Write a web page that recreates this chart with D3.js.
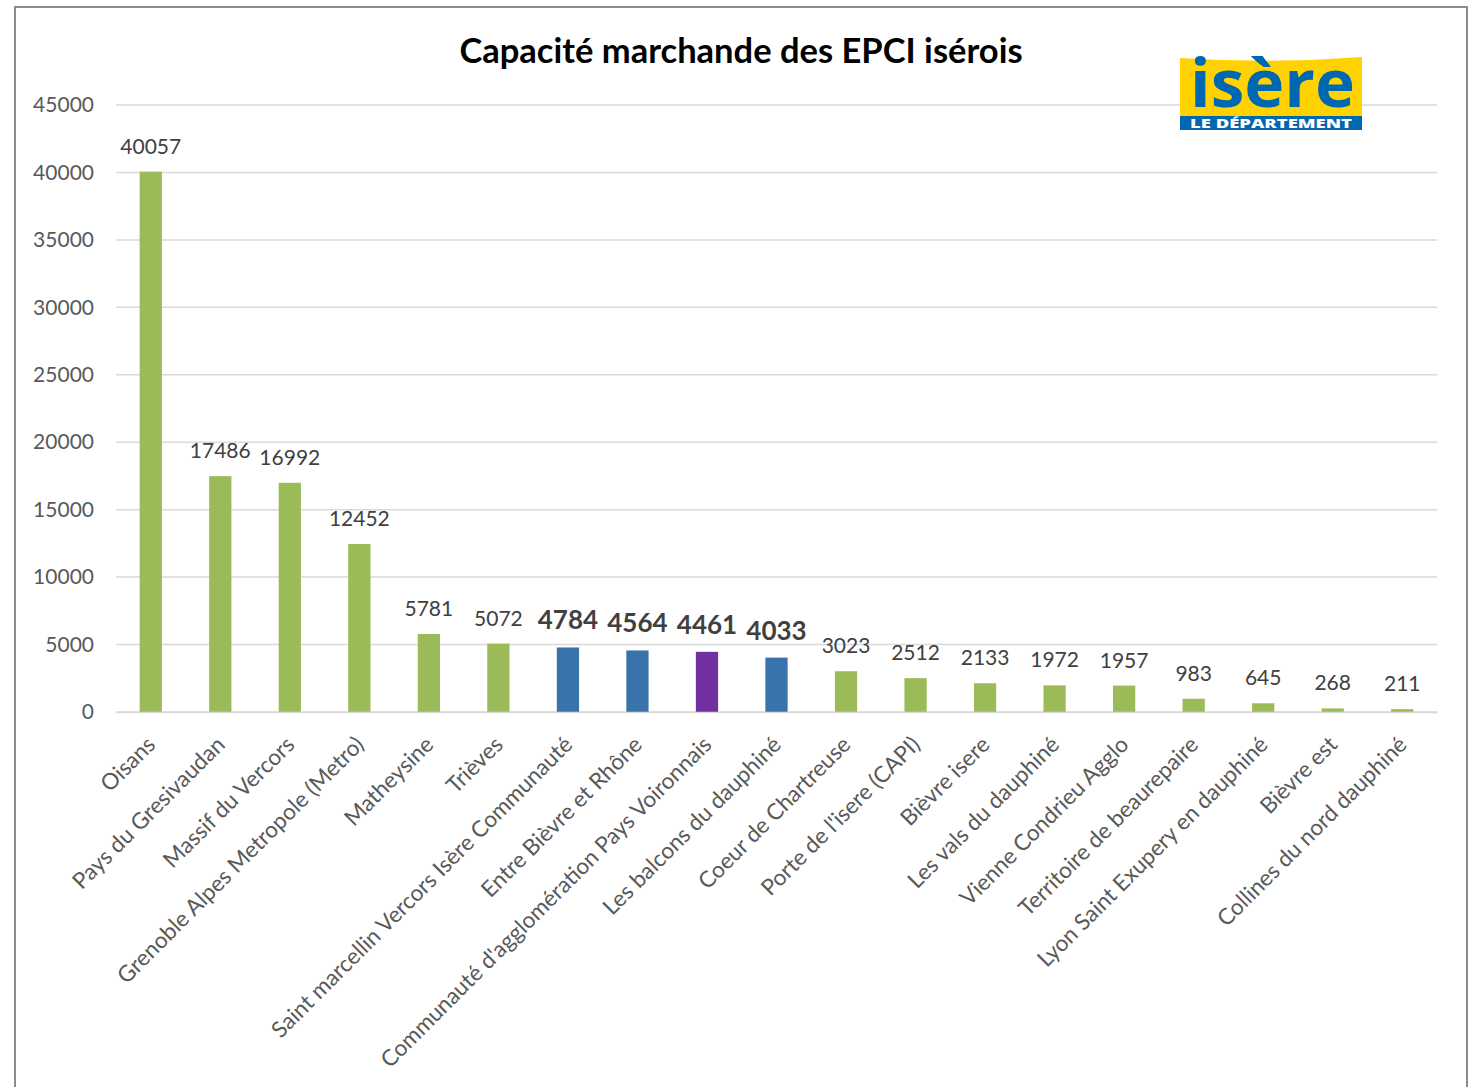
<!DOCTYPE html>
<html><head><meta charset="utf-8">
<script src="https://cdn.jsdelivr.net/npm/d3@7"></script>
<style>body{margin:0;background:#fff;} svg{display:block;}</style>
</head><body>
<svg id="c" width="1473" height="1087"></svg>
<script>
const categories = ["Oisans","Pays du Gresivaudan","Massif du Vercors","Grenoble Alpes Metropole (Metro)","Matheysine","Trièves","Saint marcellin Vercors Isère Communauté","Entre Bièvre et Rhône","Communauté d'agglomération Pays Voironnais","Les balcons du dauphiné","Coeur de Chartreuse","Porte de l'isere (CAPI)","Bièvre isere","Les vals du dauphiné","Vienne Condrieu Agglo","Territoire de beaurepaire","Lyon Saint Exupery en dauphiné","Bièvre est","Collines du nord dauphiné"];
const values = [40057,17486,16992,12452,5781,5072,4784,4564,4461,4033,3023,2512,2133,1972,1957,983,645,268,211];
const barColors = ["#9BBB59","#9BBB59","#9BBB59","#9BBB59","#9BBB59","#9BBB59","#3A73AC","#3A73AC","#7030A0","#3A73AC","#9BBB59","#9BBB59","#9BBB59","#9BBB59","#9BBB59","#9BBB59","#9BBB59","#9BBB59","#9BBB59"];
const highlighted = [false,false,false,false,false,false,true,true,true,true,false,false,false,false,false,false,false,false,false];
const yTicks = [0,5000,10000,15000,20000,25000,30000,35000,40000,45000];
const title = "Capacité marchande des EPCI isérois";

const svg = d3.select("#c");
const font = "Lato, 'Open Sans', sans-serif";
// frame
svg.append("rect").attr("x",15).attr("y",7).attr("width",1452).attr("height",1100)
  .attr("fill","none").attr("stroke","#8c8c8c").attr("stroke-width",2);

const x = d3.scaleBand().domain(categories).range([116,1437]).paddingInner(0.68).paddingOuter(0.34);
const y = d3.scaleLinear().domain([0,45000]).range([712,105]);

// grid
svg.append("g").selectAll("line").data(yTicks).join("line")
  .attr("x1",116).attr("x2",1437).attr("y1",d=>y(d)).attr("y2",d=>y(d))
  .attr("stroke","#D9D9D9").attr("stroke-width",1.5);

// y axis
const yAxis = d3.axisLeft(y).tickValues(yTicks).tickSize(0).tickPadding(22).tickFormat(d3.format("d"));
const ya = svg.append("g").attr("transform","translate(116,0)").call(yAxis);
ya.select(".domain").remove();
ya.selectAll("text").attr("font-family",font).attr("font-size",21).attr("fill","#595959");

// bars
svg.selectAll("rect.bar").data(categories).join("rect").attr("class","bar")
  .attr("x",d=>x(d)).attr("width",x.bandwidth())
  .attr("y",(d,i)=>y(values[i])).attr("height",(d,i)=>y(0)-y(values[i]))
  .attr("fill",(d,i)=>barColors[i]);

// value labels
svg.selectAll("text.val").data(categories).join("text").attr("class","val")
  .attr("x",d=>x(d)+x.bandwidth()/2)
  .attr("y",(d,i)=>y(values[i])-18)
  .attr("text-anchor","middle")
  .attr("font-family",font)
  .attr("font-size",(d,i)=>highlighted[i]?26:21)
  .attr("font-weight",(d,i)=>highlighted[i]?"bold":"normal")
  .attr("fill","#404040")
  .text((d,i)=>values[i]);

// x axis
const xAxis = d3.axisBottom(x).tickSize(0).tickPadding(0);
const xa = svg.append("g").attr("transform","translate(0,712)").call(xAxis);
xa.select(".domain").attr("stroke","#D9D9D9").attr("stroke-width",1.5);
xa.selectAll("text").attr("font-family",font).attr("font-size",22.5).attr("fill","#595959")
  .attr("text-anchor","end").attr("dy",0)
  .attr("transform","translate(6,34) rotate(-45)");

// title
svg.append("text").attr("x",741).attr("y",63).attr("text-anchor","middle")
  .attr("font-family",font).attr("font-size",34.5).attr("font-weight","bold").attr("fill","#000")
  .text(title);

// logo
const logo = svg.append("g");
logo.append("path").attr("d","M1180,58 Q1270,64 1362,57 L1362,117 L1180,117 Z").attr("fill","#FFD200");
logo.append("rect").attr("x",1180).attr("y",116).attr("width",182).attr("height",14).attr("fill","#0067B1");
logo.append("text").attr("x",1190).attr("y",107)
  .attr("font-family","'Open Sans', sans-serif").attr("font-weight","bold").attr("font-size",66)
  .attr("textLength",165).attr("lengthAdjust","spacingAndGlyphs")
  .attr("fill","#0067B1").text("isère");
logo.append("text").attr("x",1190).attr("y",127.5)
  .attr("font-family","'Open Sans', sans-serif").attr("font-weight","800").attr("font-size",11.5)
  .attr("textLength",162).attr("lengthAdjust","spacingAndGlyphs")
  .attr("fill","#fff").text("LE DÉPARTEMENT");
</script>
</body></html>
